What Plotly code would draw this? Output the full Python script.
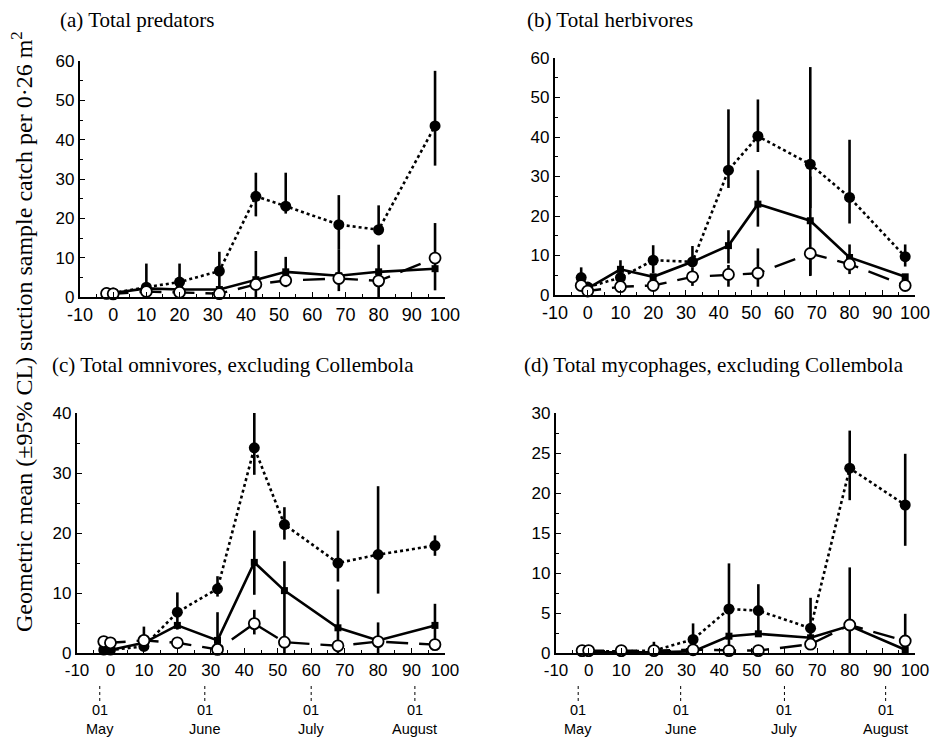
import plotly.graph_objects as go

W, H = 934, 739

days = [-2, 0, 10, 20, 32, 43, 52, 68, 80, 97]

# Panel (a) Total predators
a_closed = [1.0, 1.0, 2.5, 3.8, 6.6, 25.6, 23.1, 18.4, 17.1, 43.5]
a_closed_hi = [1.0, 1.0, 8.5, 8.5, 11.5, 31.6, 31.6, 25.9, 23.3, 57.5]
a_closed_lo = [1.0, 1.0, 1.7, 2.1, 0.5, 20.5, 21.2, 12.0, 15.7, 33.4]
a_square = [1.0, 1.0, 2.2, 1.9, 1.9, 4.4, 6.4, 5.4, 6.4, 7.2]
a_square_hi = [1.0, 1.0, 2.2, 1.9, 1.9, 11.7, 10.2, 12.0, 13.3, 7.2]
a_square_lo = [1.0, 1.0, 2.2, 1.9, 1.9, 0.0, 2.5, 1.5, 0.0, 1.7]
a_open = [0.9, 0.8, 1.4, 1.2, 0.85, 3.2, 4.2, 4.7, 4.1, 9.9]
a_open_hi = [0.9, 0.8, 1.4, 1.2, 0.85, 3.2, 4.2, 4.7, 4.1, 18.8]
a_open_lo = [0.9, 0.8, 1.4, 1.2, 0.85, 3.2, 4.2, 4.7, 4.1, 7.2]

# Panel (b) Total herbivores
b_closed = [4.4, 2.0, 4.4, 8.8, 8.4, 31.6, 40.2, 33.1, 24.7, 9.7]
b_closed_hi = [7.0, 2.0, 8.8, 12.6, 12.4, 47.0, 49.5, 57.7, 39.3, 12.8]
b_closed_lo = [3.0, 2.0, 3.0, 5.5, 7.0, 27.1, 36.2, 22.0, 18.1, 7.2]
b_square = [2.1, 1.7, 6.5, 4.6, 8.4, 12.5, 23.0, 18.8, 9.5, 4.6]
b_square_hi = [2.1, 1.7, 6.5, 4.6, 8.4, 16.4, 31.6, 30.0, 12.8, 4.6]
b_square_lo = [2.1, 1.7, 6.5, 4.6, 8.4, 8.0, 17.3, 5.0, 8.0, 4.6]
b_open = [2.4, 1.0, 2.1, 2.4, 4.6, 5.2, 5.5, 10.5, 7.8, 2.4]
b_open_hi = [2.4, 1.0, 2.1, 2.4, 7.0, 7.6, 11.8, 10.5, 7.8, 2.4]
b_open_lo = [2.4, 1.0, 2.1, 2.4, 2.3, 2.1, 2.1, 4.8, 5.3, 2.4]

# Panel (c) Total omnivores, excluding Collembola
c_closed = [0.5, 0.5, 1.1, 6.8, 10.7, 34.2, 21.4, 15.0, 16.4, 17.9]
c_closed_hi = [0.5, 0.5, 4.4, 10.1, 12.8, 40.3, 24.3, 20.4, 27.8, 19.6]
c_closed_lo = [0.5, 0.5, 1.1, 3.9, 9.4, 29.7, 18.9, 11.9, 9.9, 16.2]
c_square = [0.5, 0.5, 1.7, 4.6, 2.1, 15.1, 10.4, 4.2, 2.1, 4.6]
c_square_hi = [0.5, 0.5, 1.7, 4.6, 6.8, 20.4, 15.3, 10.6, 5.1, 8.2]
c_square_lo = [0.5, 0.5, 1.7, 4.6, 0.0, 9.7, 0.0, 0.0, 0.0, 1.7]
c_open = [1.9, 1.7, 2.1, 1.7, 0.6, 4.9, 1.8, 1.2, 1.9, 1.4]
c_open_hi = [1.9, 1.7, 2.1, 1.7, 0.6, 7.2, 1.8, 1.2, 1.9, 1.4]
c_open_lo = [1.9, 1.7, 2.1, 1.7, 0.6, 3.1, 1.8, 1.2, 1.9, 1.4]

# Panel (d) Total mycophages, excluding Collembola
d_closed = [0.2, 0.2, 0.2, 0.3, 1.7, 5.5, 5.3, 3.1, 23.1, 18.5]
d_closed_hi = [0.2, 0.2, 0.2, 1.4, 3.7, 11.2, 8.6, 6.9, 27.8, 24.9]
d_closed_lo = [0.2, 0.2, 0.2, 0.3, 0.4, 0.0, 2.3, 1.7, 19.1, 13.4]
d_square = [0.1, 0.1, 0.1, 0.1, 0.2, 2.1, 2.4, 1.9, 3.4, 0.4]
d_square_hi = [0.1, 0.1, 0.1, 0.1, 0.2, 2.1, 2.4, 1.9, 10.7, 4.9]
d_square_lo = [0.1, 0.1, 0.1, 0.1, 0.2, 2.1, 2.4, 1.9, 0.0, 0.0]
d_open = [0.3, 0.3, 0.3, 0.3, 0.4, 0.3, 0.3, 1.1, 3.5, 1.5]
d_open_hi = [0.3, 0.3, 0.3, 0.3, 0.4, 0.3, 0.3, 1.1, 3.5, 1.5]
d_open_lo = [0.3, 0.3, 0.3, 0.3, 0.4, 0.3, 0.3, 1.1, 3.5, 1.5]

panel_titles = ["(a) Total predators", "(b) Total herbivores",
                "(c) Total omnivores, excluding Collembola",
                "(d) Total mycophages, excluding Collembola"]
y_max = [60, 60, 40, 30]
y_dtick = [10, 10, 10, 5]
month_names = ["May", "June", "July", "August"]
month_days = [-3.2, 28.2, 60.0, 91.0]
x_ticks = [-10, 0, 10, 20, 30, 40, 50, 60, 70, 80, 90, 100]

panels = [
    (a_closed, a_closed_hi, a_closed_lo, a_square, a_square_hi, a_square_lo, a_open, a_open_hi, a_open_lo),
    (b_closed, b_closed_hi, b_closed_lo, b_square, b_square_hi, b_square_lo, b_open, b_open_hi, b_open_lo),
    (c_closed, c_closed_hi, c_closed_lo, c_square, c_square_hi, c_square_lo, c_open, c_open_hi, c_open_lo),
    (d_closed, d_closed_hi, d_closed_lo, d_square, d_square_hi, d_square_lo, d_open, d_open_hi, d_open_lo),
]

# pixel boxes: (left, right, top, bottom)
boxes = [(80, 445, 61, 297), (555, 915, 58, 295), (77, 445, 413, 653), (556, 915, 413, 653)]
title_pos = [(58, 20), (525, 20), (50, 365), (522, 365)]

fig = go.Figure()


def err(y, hi, lo):
    return dict(type="data", symmetric=False,
                array=[h - v for h, v in zip(hi, y)],
                arrayminus=[v - l for v, l in zip(y, lo)],
                color="black", thickness=2.6, width=0, visible=True)


for i, p in enumerate(panels):
    xa = "x" if i == 0 else f"x{i+1}"
    ya = "y" if i == 0 else f"y{i+1}"
    cl, clh, cll, sq, sqh, sql, op, oph, opl = p
    fig.add_trace(go.Scatter(x=days, y=cl, xaxis=xa, yaxis=ya, mode="lines+markers",
                             line=dict(color="black", width=2.6, dash="dot"),
                             marker=dict(symbol="circle", size=11, color="black"),
                             error_y=err(cl, clh, cll), cliponaxis=False, showlegend=False))
    fig.add_trace(go.Scatter(x=days, y=sq, xaxis=xa, yaxis=ya, mode="lines+markers",
                             line=dict(color="black", width=2.6),
                             marker=dict(symbol="square", size=7, color="black"),
                             error_y=err(sq, sqh, sql), cliponaxis=False, showlegend=False))
    fig.add_trace(go.Scatter(x=days, y=op, xaxis=xa, yaxis=ya, mode="lines+markers",
                             line=dict(color="black", width=2.4, dash="22px,11px"),
                             marker=dict(symbol="circle", size=11, color="white",
                                         line=dict(color="black", width=1.8)),
                             error_y=err(op, oph, opl), cliponaxis=False, showlegend=False))

layout = dict(width=W, height=H, margin=dict(l=0, r=0, t=0, b=0, autoexpand=False),
              paper_bgcolor="white", plot_bgcolor="white", showlegend=False)

annotations = []
shapes = []
for i, (l, r, t, b) in enumerate(boxes):
    sfx = "" if i == 0 else str(i + 1)
    bottom = i >= 2
    layout["xaxis" + sfx] = dict(
        domain=[l / W, r / W], range=[-10, 100], anchor="y" + sfx,
        tickmode="array", tickvals=x_ticks, ticktext=[str(v) for v in x_ticks],
        ticks="inside", ticklen=5, tickwidth=1.2, tickcolor="black",
        minor=dict(tickmode="linear", tick0=-10, dtick=5, ticks="inside", ticklen=3, tickcolor="black"),
        showline=True, linecolor="black", linewidth=2.2, showgrid=False, zeroline=False,
        automargin=False, ticklabeloverflow="allow",
        tickfont=dict(family="Liberation Sans, Arial", size=17 if bottom else 18, color="black"),
    )
    layout["yaxis" + sfx] = dict(
        domain=[1 - b / H, 1 - t / H], range=[0, y_max[i]], anchor="x" + sfx,
        dtick=y_dtick[i], tick0=0,
        ticks="inside", ticklen=5, tickwidth=1.2, tickcolor="black",
        minor=dict(dtick=y_dtick[i] / 2, ticks="inside", ticklen=3, tickcolor="black"),
        showline=True, linecolor="black", linewidth=2.2, showgrid=False, zeroline=False,
        automargin=False,
        tickfont=dict(family="Liberation Sans, Arial", size=17, color="black"),
    )
    tx, ty = title_pos[i]
    annotations.append(dict(text=panel_titles[i], xref="paper", yref="paper",
                            x=tx / W, y=1 - ty / H, xanchor="left", yanchor="middle",
                            showarrow=False,
                            font=dict(family="Liberation Serif, Times New Roman", size=21, color="black")))
    if bottom:
        for md, mn in zip(month_days, month_names):
            shapes.append(dict(type="line", xref="x" + sfx, yref="paper",
                               x0=md, x1=md, y0=1 - 686 / H, y1=1 - 701 / H,
                               line=dict(color="black", width=1, dash="dot")))
            annotations.append(dict(text="01", xref="x" + sfx, yref="paper", x=md, y=1 - 710 / H,
                                    xanchor="center", yanchor="middle", showarrow=False,
                                    font=dict(family="Liberation Sans, Arial", size=14.5, color="black")))
            annotations.append(dict(text=mn, xref="x" + sfx, yref="paper", x=md, y=1 - 729 / H,
                                    xanchor="center", yanchor="middle", showarrow=False,
                                    font=dict(family="Liberation Sans, Arial", size=14.5, color="black")))

annotations.append(dict(text="Geometric mean (±95% CL) suction sample catch per 0·26 m<sup>2</sup>",
                        xref="paper", yref="paper", x=22 / W, y=1 - 332 / H,
                        xanchor="center", yanchor="middle", textangle=-90, showarrow=False,
                        font=dict(family="Liberation Serif, Times New Roman", size=24, color="black")))

layout["annotations"] = annotations
layout["shapes"] = shapes
fig.update_layout(**layout)
fig.write_html("out.html")
